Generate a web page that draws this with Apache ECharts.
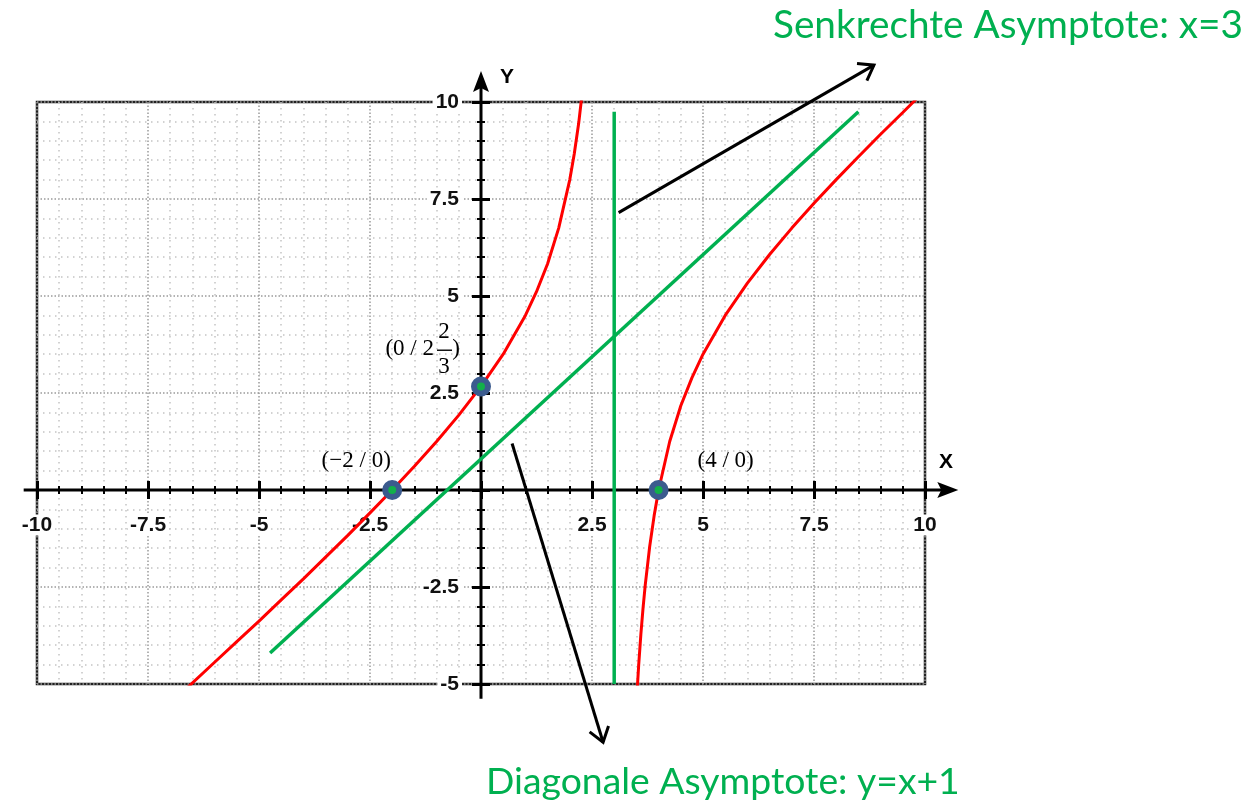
<!DOCTYPE html>
<html><head><meta charset="utf-8">
<script src="https://cdn.jsdelivr.net/npm/echarts@6/dist/echarts.min.js"></script>
<style>html,body{margin:0;padding:0;background:#fff}#c{width:1254px;height:805px}</style>
</head><body><div id="c"></div>
<script>
// ---- data ----
const leftBranchX  = [-6.6, -6.0, -5.5, -5.0, -4.5, -4.0, -3.5, -3.0, -2.5, -2.0, -1.5, -1.0, -0.5, 0.0, 0.5, 1.0, 1.25, 1.5, 1.75, 2.0, 2.1, 2.2, 2.3];
const leftBranchY  = [-5.08, -4.44, -3.91, -3.38, -2.83, -2.29, -1.73, -1.17, -0.59, 0.0, 0.61, 1.25, 1.93, 2.67, 3.5, 4.5, 5.11, 5.83, 6.75, 8.0, 8.66, 9.45, 10.44];
const rightBranchX = [3.5, 3.55, 3.6, 3.65, 3.7, 3.8, 3.9, 4.0, 4.25, 4.5, 4.75, 5.0, 5.5, 6.0, 6.5, 7.0, 7.5, 8.0, 8.5, 9.0, 9.5, 9.8];
const rightBranchY = [-5.5, -4.54, -3.73, -3.04, -2.44, -1.45, -0.66, 0.0, 1.25, 2.17, 2.89, 3.5, 4.5, 5.33, 6.07, 6.75, 7.39, 8.0, 8.59, 9.17, 9.73, 10.07];
const vertAsymX = [3, 3];
const vertAsymY = [9.75, -5];
const diagAsymX = [-4.75, 8.5];
const diagAsymY = [-4.2, 9.75];
const pointX = [-2, 0, 4];
const pointY = [0, 2.667, 0];
const arrow1X = [3.1, 8.85];
const arrow1Y = [7.15, 10.95];
const arrow2X = [0.7, 2.75];
const arrow2Y = [1.2, -6.5];
const xAxisExtent = [-10.3, 10.75];
const yAxisExtent = [-5.38, 10.8];
const xTickValues = [-10, -7.5, -5, -2.5, 2.5, 5, 7.5, 10];
const xTickLabels = ['-10', '-7.5', '-5', '-2.5', '2.5', '5', '7.5', '10'];
const yTickValues = [-5, -2.5, 2.5, 5, 7.5, 10];
const yTickLabels = ['-5', '-2.5', '2.5', '5', '7.5', '10'];
const xMin = -10, xMax = 10, yMin = -5, yMax = 10, step = 2.5;
const titleTop = 'Senkrechte Asymptote: x=3';
const titleBottom = 'Diagonale Asymptote: y=x+1';
const labelZeroLeft = '(\u22122 / 0)';
const labelZeroRight = '(4 / 0)';
const labelIntercept = ['(0 / 2', '2', '3', ')'];

const RED = '#ff0000', GREEN = '#00b050';
const zip = (a, b) => a.map((v, i) => [v, b[i]]);

const chart = echarts.init(document.getElementById('c'));

const baseAxis = {
  type: 'value', interval: step, z: 1,
  axisLine: {show: false, onZero: true, onZeroAxisIndex: 0},
  axisLabel: {show: false},
  axisTick: {show: true, length: 9, lineStyle: {color: '#000', width: 3}},
  minorTick: {show: true, splitNumber: 5, length: 4, lineStyle: {color: '#000', width: 2}},
};
const majorGrid = {show: true, lineStyle: {color: '#9a9a9a', width: 1.5, type: [1.5, 2]}};
const minorGrid = {show: true, lineStyle: {color: '#c4c4c4', width: 1.5, type: [1.5, 4.5]}};

const option = {
  animation: false,
  backgroundColor: '#fff',
  grid: {left: 37, right: 329, top: 102, bottom: 121, show: true, borderColor: '#222', borderWidth: 2.5, containLabel: false, outerBoundsMode: 'none'},
  xAxis: [
    Object.assign({}, baseAxis, {min: xMin, max: xMax, position: 'bottom', splitLine: majorGrid, minorSplitLine: minorGrid}),
    Object.assign({}, baseAxis, {min: xMin, max: xMax, position: 'top', splitLine: {show: false}, minorSplitLine: {show: false}})
  ],
  yAxis: [
    Object.assign({}, baseAxis, {min: yMin, max: yMax, position: 'left', splitLine: majorGrid, minorSplitLine: minorGrid}),
    Object.assign({}, baseAxis, {min: yMin, max: yMax, position: 'right', splitLine: {show: false}, minorSplitLine: {show: false}})
  ],
  series: [
    {type: 'line', name: 'left', data: zip(leftBranchX, leftBranchY), showSymbol: false, clip: true,
     lineStyle: {color: RED, width: 3}, z: 5},
    {type: 'line', name: 'right', data: zip(rightBranchX, rightBranchY), showSymbol: false, clip: true,
     lineStyle: {color: RED, width: 3}, z: 5},
    {type: 'line', name: 'vasym', data: zip(vertAsymX, vertAsymY), showSymbol: false, clip: false,
     lineStyle: {color: GREEN, width: 3.5}, z: 5},
    {type: 'line', name: 'dasym', data: zip(diagAsymX, diagAsymY), showSymbol: false, clip: false,
     lineStyle: {color: GREEN, width: 3.5}, z: 5},
    {type: 'scatter', name: 'points', data: zip(pointX, pointY), symbolSize: 14,
     itemStyle: {color: '#12b04a', borderColor: '#3b5b8e', borderWidth: 6, opacity: 1}, z: 7}
  ]
};
chart.setOption(option);

const P = (x, y) => chart.convertToPixel({gridIndex: 0}, [x, y]);

function fitFont(text, family, targetW) {
  const c = document.createElement('canvas').getContext('2d');
  c.font = '100px ' + family;
  return 100 * targetW / c.measureText(text).width;
}
const titleFam = 'Lato, "Open Sans", sans-serif';
const fs1 = fitFont(titleTop, titleFam, 470);
const fs2 = fitFont(titleBottom, titleFam, 474);

const g = [];
const o = P(0, 0);
// axes with arrowheads
const xa = P(xAxisExtent[0], 0), xb = P(xAxisExtent[1], 0);
const ya = P(0, yAxisExtent[0]), yb = P(0, yAxisExtent[1]);
g.push({type: 'line', z: 3, shape: {x1: xa[0], y1: o[1], x2: xb[0] - 10, y2: o[1]}, style: {stroke: '#000', lineWidth: 3}});
g.push({type: 'polygon', z: 3, shape: {points: [[xb[0], o[1]], [xb[0] - 21, o[1] - 8], [xb[0] - 17, o[1]], [xb[0] - 21, o[1] + 8]]}, style: {fill: '#000'}});
g.push({type: 'line', z: 3, shape: {x1: o[0], y1: ya[1], x2: o[0], y2: yb[1] + 10}, style: {stroke: '#000', lineWidth: 3}});
g.push({type: 'polygon', z: 3, shape: {points: [[o[0], yb[1]], [o[0] - 8, yb[1] + 21], [o[0], yb[1] + 17], [o[0] + 8, yb[1] + 21]]}, style: {fill: '#000'}});

// tick labels placed through the axis scales
const tickFont = 'bold 21px "Liberation Sans", Arial, sans-serif';
xTickValues.forEach((v, i) => {
  const p = P(v, 0);
  g.push({type: 'text', z: 2, style: {text: xTickLabels[i], x: p[0], y: p[1] + 35, font: tickFont, fill: '#111',
    align: 'center', verticalAlign: 'middle', backgroundColor: '#fff', padding: [0, 2]}});
});
yTickValues.forEach((v, i) => {
  const p = P(0, v);
  g.push({type: 'text', z: 2, style: {text: yTickLabels[i], x: p[0] - 19, y: p[1], font: tickFont, fill: '#111',
    align: 'right', verticalAlign: 'middle', backgroundColor: '#fff', padding: [0, 3]}});
});

const axFont = 'bold 21px "Liberation Sans", Arial, sans-serif';
const pxm = P(xMax, 0), pym = P(0, yMax);
g.push({type: 'text', z: 4, style: {text: 'X', x: pxm[0] + 21, y: o[1] - 28, font: axFont, fill: '#000', align: 'center', verticalAlign: 'middle'}});
g.push({type: 'text', z: 4, style: {text: 'Y', x: o[0] + 26, y: pym[1] - 25, font: axFont, fill: '#000', align: 'center', verticalAlign: 'middle'}});

// annotation arrows (open chevron head)
function arrow(xs, ys) {
  const a = P(xs[0], ys[0]), b = P(xs[1], ys[1]);
  const ang = Math.atan2(b[1] - a[1], b[0] - a[0]);
  const L = 17, spread = 0.62;
  const p1 = [b[0] - L * Math.cos(ang - spread), b[1] - L * Math.sin(ang - spread)];
  const p2 = [b[0] - L * Math.cos(ang + spread), b[1] - L * Math.sin(ang + spread)];
  g.push({type: 'line', z: 10, shape: {x1: a[0], y1: a[1], x2: b[0], y2: b[1]}, style: {stroke: '#000', lineWidth: 3}});
  g.push({type: 'polyline', z: 10, shape: {points: [p1, b, p2]}, style: {stroke: '#000', lineWidth: 3, fill: null, lineJoin: 'miter'}});
}
arrow(arrow1X, arrow1Y);
arrow(arrow2X, arrow2Y);

// titles
g.push({type: 'text', z: 10, style: {text: titleTop, x: 773, y: 25, font: fs1.toFixed(2) + 'px ' + titleFam, fill: GREEN, align: 'left', verticalAlign: 'middle'}});
g.push({type: 'text', z: 10, style: {text: titleBottom, x: 486, y: 782, font: fs2.toFixed(2) + 'px ' + titleFam, fill: GREEN, align: 'left', verticalAlign: 'middle'}});

// point labels
const serif = '23px "Liberation Serif", "Times New Roman", serif';
const pA = P(pointX[0], pointY[0]), pB = P(pointX[1], pointY[1]), pC = P(pointX[2], pointY[2]);
g.push({type: 'text', z: 10, style: {text: labelZeroLeft, x: pA[0] - 36, y: pA[1] - 29, font: serif, fill: '#000', align: 'center', verticalAlign: 'middle'}});
g.push({type: 'text', z: 10, style: {text: labelZeroRight, x: pC[0] + 67, y: pC[1] - 29, font: serif, fill: '#000', align: 'center', verticalAlign: 'middle'}});
g.push({type: 'text', z: 10, style: {text: labelIntercept[0], x: pB[0] - 47, y: pB[1] - 38, font: serif, fill: '#000', align: 'right', verticalAlign: 'middle'}});
g.push({type: 'text', z: 10, style: {text: labelIntercept[1], x: pB[0] - 37, y: pB[1] - 55, font: serif, fill: '#000', align: 'center', verticalAlign: 'middle'}});
g.push({type: 'rect', z: 10, shape: {x: pB[0] - 44, y: pB[1] - 37, width: 15, height: 1.4}, style: {fill: '#000'}});
g.push({type: 'text', z: 10, style: {text: labelIntercept[2], x: pB[0] - 37, y: pB[1] - 20, font: serif, fill: '#000', align: 'center', verticalAlign: 'middle'}});
g.push({type: 'text', z: 10, style: {text: labelIntercept[3], x: pB[0] - 25, y: pB[1] - 38, font: serif, fill: '#000', align: 'center', verticalAlign: 'middle'}});

chart.setOption({graphic: {elements: g}});
</script>
</body></html>
